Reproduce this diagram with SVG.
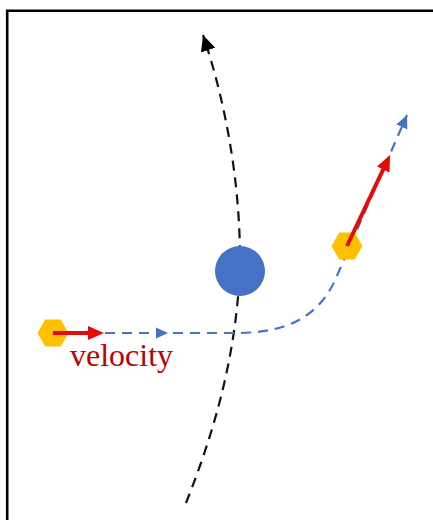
<svg xmlns="http://www.w3.org/2000/svg" width="433" height="520" viewBox="0 0 433 520">
  <style>
    .frame { fill: none; stroke: #000; stroke-width: 2.6; }
    .trail-black { fill: none; stroke: #111; stroke-width: 2.2; stroke-dasharray: 10 7; }
    .trail-blue { fill: none; stroke: #4a72c0; stroke-width: 2.2; stroke-dasharray: 10 7; }
    .vel { fill: none; stroke: #e60a0a; stroke-width: 4; }
    .hex { fill: #ffc000; }
    .planet { fill: #4472c4; }
    .label { font-family: "Liberation Serif", "Times New Roman", serif; font-size: 32px; fill: #c00000; }
  </style>
  <defs>
    <marker id="ah-black" viewBox="0 0 16 15" refX="16" refY="7.5" markerWidth="16" markerHeight="15" markerUnits="userSpaceOnUse" orient="auto">
      <path d="M0,0 L16,7.5 L0,15 z" fill="#000"/>
    </marker>
    <marker id="ah-blue" viewBox="0 0 13 12" refX="13" refY="6" markerWidth="13" markerHeight="12" markerUnits="userSpaceOnUse" orient="auto">
      <path d="M0,0 L13,6 L0,12 z" fill="#4472c4"/>
    </marker>
    <marker id="ah-red" viewBox="0 0 16 14" refX="4" refY="7" markerWidth="16" markerHeight="14" markerUnits="userSpaceOnUse" orient="auto">
      <path d="M0,0 L16,7 L0,14 z" fill="#e60a0a"/>
    </marker>
    <polygon id="hexshape" points="-15.5,0 -7.75,-13.4 7.75,-13.4 15.5,0 7.75,13.4 -7.75,13.4"/>
  </defs>

  <path class="frame" d="M7.2,522 V10.7 H435"/>

  <g id="connectors">
    <path id="trail-deflected" class="trail-black" d="M186,503 C215,430 238,350 240,260 C240,180 225,100 203,35" marker-end="url(#ah-black)"/>
    <path id="trail-particle" class="trail-blue" d="M105,333 L240,333 C290,332 320,315 336,278 L407,115" marker-end="url(#ah-blue)"/>
    <polygon id="trail-mid-arrow" points="156,327.5 168,333 156,338.5" fill="#4472c4"/>
  </g>

  <g id="planet">
    <circle class="planet" cx="240" cy="271" r="25"/>
  </g>

  <g id="particle-start">
    <use href="#hexshape" class="hex" x="53" y="333"/>
    <line class="vel" x1="53" y1="333" x2="92" y2="333" marker-end="url(#ah-red)"/>
  </g>

  <g id="particle-end">
    <use href="#hexshape" class="hex" x="347" y="246"/>
    <line class="vel" x1="347" y1="246" x2="384.9" y2="165.9" marker-end="url(#ah-red)"/>
  </g>

  <g id="label-velocity">
    <text class="label" x="70" y="366">velocity</text>
  </g>
</svg>
